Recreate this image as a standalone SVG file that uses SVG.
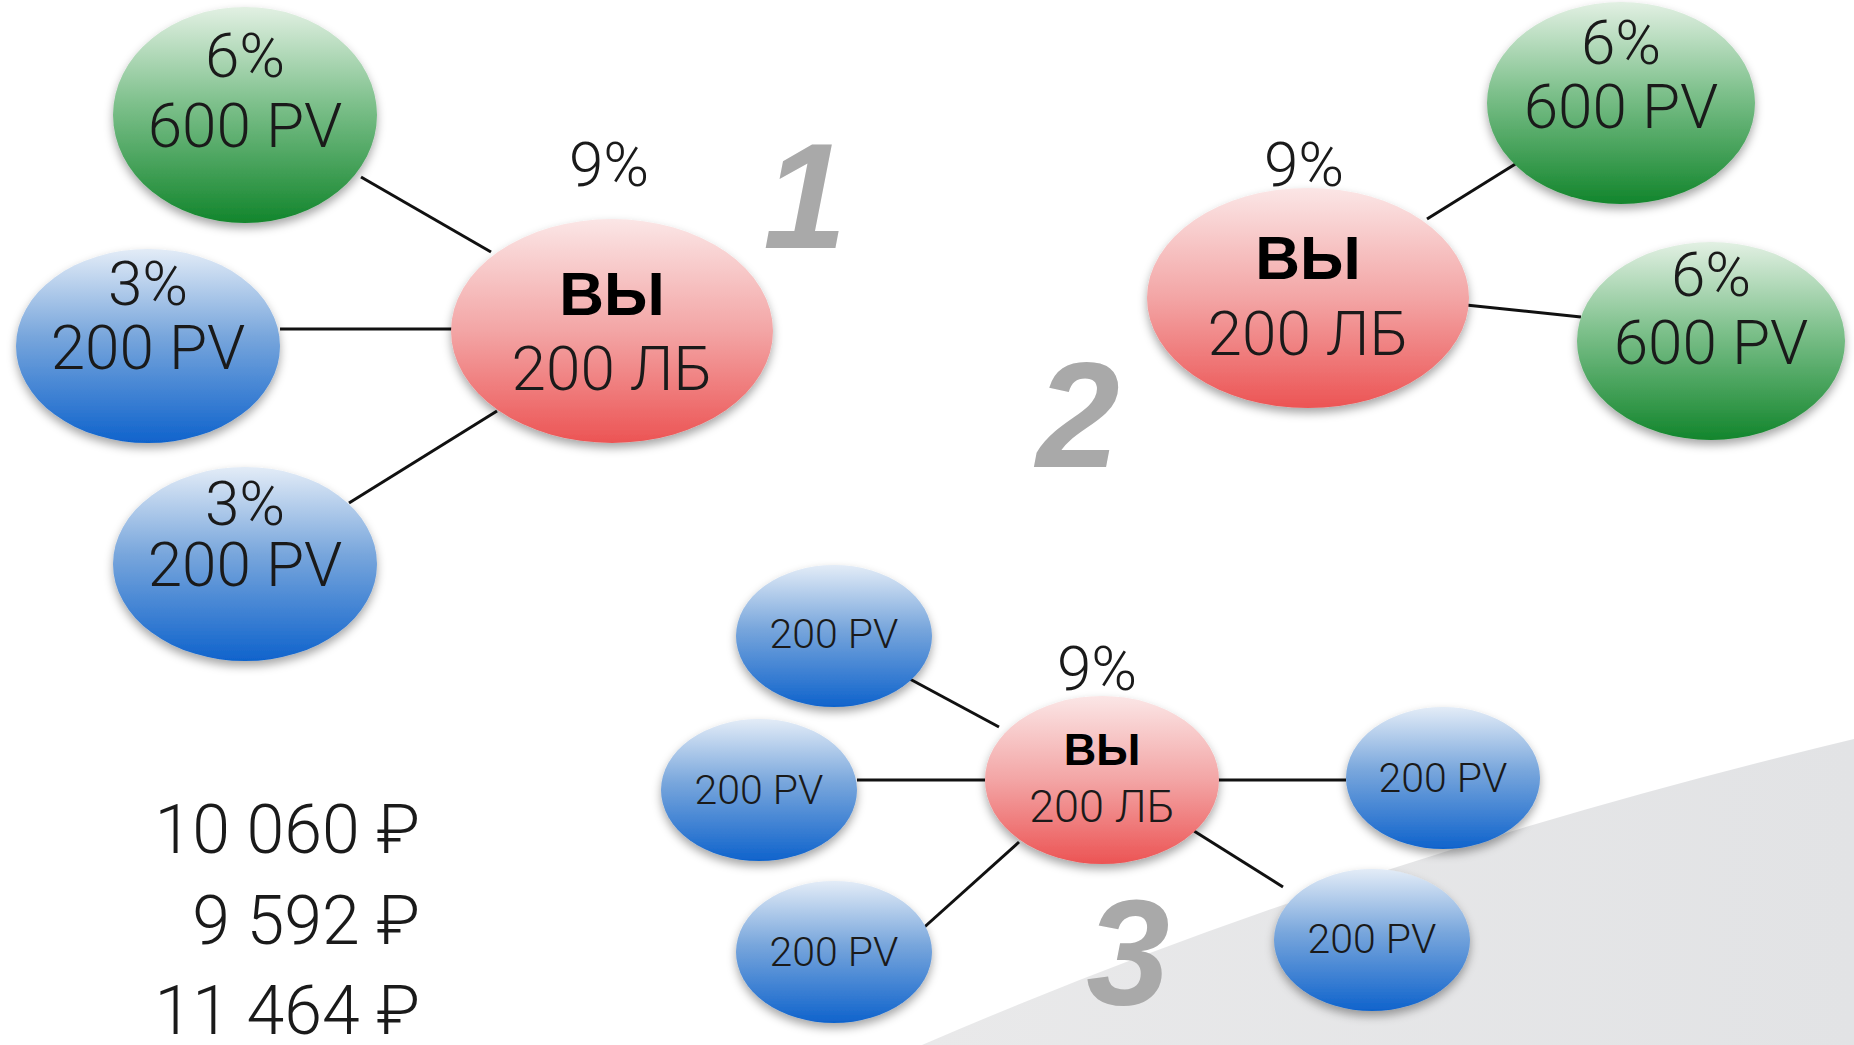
<svg xmlns="http://www.w3.org/2000/svg" width="1854" height="1045" viewBox="0 0 1854 1045">
<defs>
<linearGradient id="gGreen" x1="0" y1="0" x2="0" y2="1">
<stop offset="0" stop-color="#e2f0e3"/><stop offset="0.45" stop-color="#7dc08b"/><stop offset="1" stop-color="#12852c"/>
</linearGradient>
<linearGradient id="gBlue" x1="0" y1="0" x2="0" y2="1">
<stop offset="0" stop-color="#e3ecf7"/><stop offset="0.45" stop-color="#78a6dc"/><stop offset="1" stop-color="#0f63cc"/>
</linearGradient>
<linearGradient id="gRed" x1="0" y1="0" x2="0" y2="1">
<stop offset="0" stop-color="#fbe6e6"/><stop offset="0.5" stop-color="#f3a5a5"/><stop offset="1" stop-color="#ec5454"/>
</linearGradient>
<linearGradient id="gBg" x1="0" y1="0" x2="1" y2="0">
<stop offset="0" stop-color="#e9e9ea"/><stop offset="1" stop-color="#e2e3e5"/>
</linearGradient>
<filter id="sh" x="-20%" y="-20%" width="140%" height="150%">
<feDropShadow dx="0" dy="5" stdDeviation="5" flood-color="#000" flood-opacity="0.35"/>
</filter>
</defs>
<style>
.t{font-family:Roboto,"Liberation Sans",Arial,sans-serif;font-weight:300;fill:#1a1a1a;text-anchor:middle}
.big{font-size:62px}
.mid{font-size:45px}
.sm{font-size:41px}
.b{font-weight:bold;fill:#000;font-family:"Liberation Sans",Arial,sans-serif}
.num{font-family:"Liberation Sans",Arial,sans-serif;font-weight:bold;font-style:italic;fill:#a9a9a9;text-anchor:middle;font-size:150px}
.amt{font-family:Roboto,"Liberation Sans","DejaVu Sans",sans-serif;font-weight:300;font-size:68px;fill:#1a1a1a;text-anchor:end}
.ln{stroke:#111;stroke-width:3;fill:none}
.green{fill:url(#gGreen);filter:url(#sh)}
.blue{fill:url(#gBlue);filter:url(#sh)}
.red{fill:url(#gRed);filter:url(#sh)}
</style>
<rect width="1854" height="1045" fill="#ffffff"/>
<path d="M922 1045 Q1350 860 1854 739 L1854 1045 Z" fill="url(#gBg)"/>

<g id="labels">
<text class="num" x="805" y="248">1</text>
<text class="num" x="1078" y="467">2</text>
<text class="num" x="1128" y="1005">3</text>
<text class="amt" x="420" y="853">10 060 ₽</text>
<text class="amt" x="420" y="944">9 592 ₽</text>
<text class="amt" x="420" y="1034">11 464 ₽</text>
</g>

<g id="connectors">
<line class="ln" x1="361" y1="177" x2="491" y2="252"/>
<line class="ln" x1="280" y1="329" x2="453" y2="329"/>
<line class="ln" x1="349" y1="503" x2="497" y2="411"/>
<line class="ln" x1="1427" y1="219" x2="1517" y2="163"/>
<line class="ln" x1="1466" y1="305" x2="1581" y2="317"/>
<line class="ln" x1="908" y1="678" x2="999" y2="727"/>
<line class="ln" x1="857" y1="780" x2="985" y2="780"/>
<line class="ln" x1="910" y1="940" x2="1019" y2="842"/>
<line class="ln" x1="1218" y1="780" x2="1346" y2="780"/>
<line class="ln" x1="1194" y1="831" x2="1283" y2="887"/>
</g>

<!-- Diagram 1 -->
<g id="d1-green">
<ellipse class="green" cx="245" cy="115" rx="132" ry="108"/>
<text class="t big" x="245" y="77">6%</text>
<text class="t big" x="245" y="147">600 PV</text>
</g>
<g id="d1-blue1">
<ellipse class="blue" cx="148" cy="346" rx="132" ry="97"/>
<text class="t big" x="148" y="305">3%</text>
<text class="t big" x="148" y="369">200 PV</text>
</g>
<g id="d1-blue2">
<ellipse class="blue" cx="245" cy="564" rx="132" ry="97"/>
<text class="t big" x="245" y="525">3%</text>
<text class="t big" x="245" y="586">200 PV</text>
</g>
<g id="d1-you">
<text class="t big" x="609" y="186">9%</text>
<ellipse class="red" cx="612" cy="331" rx="161" ry="112"/>
<text class="t big b" x="612" y="315">ВЫ</text>
<text class="t big" x="612" y="390">200 ЛБ</text>
</g>

<!-- Diagram 2 -->
<g id="d2-you">
<text class="t big" x="1304" y="186">9%</text>
<ellipse class="red" cx="1308" cy="298" rx="161" ry="110"/>
<text class="t big b" x="1308" y="279">ВЫ</text>
<text class="t big" x="1308" y="355">200 ЛБ</text>
</g>
<g id="d2-green1">
<ellipse class="green" cx="1621" cy="103" rx="134" ry="101"/>
<text class="t big" x="1621" y="64">6%</text>
<text class="t big" x="1621" y="128">600 PV</text>
</g>
<g id="d2-green2">
<ellipse class="green" cx="1711" cy="341" rx="134" ry="99"/>
<text class="t big" x="1711" y="296">6%</text>
<text class="t big" x="1711" y="364">600 PV</text>
</g>

<!-- Diagram 3 -->
<g id="d3-you">
<text class="t big" x="1097" y="690">9%</text>
<ellipse class="red" cx="1102" cy="780" rx="117" ry="84"/>
<text class="t mid b" x="1102" y="765">ВЫ</text>
<text class="t mid" x="1102" y="822">200 ЛБ</text>
</g>
<g id="d3-b1">
<ellipse class="blue" cx="834" cy="636" rx="98" ry="71"/>
<text class="t sm" x="834" y="648">200 PV</text>
</g>
<g id="d3-b2">
<ellipse class="blue" cx="759" cy="790" rx="98" ry="71"/>
<text class="t sm" x="759" y="804">200 PV</text>
</g>
<g id="d3-b3">
<ellipse class="blue" cx="834" cy="952" rx="98" ry="71"/>
<text class="t sm" x="834" y="966">200 PV</text>
</g>
<g id="d3-b4">
<ellipse class="blue" cx="1443" cy="778" rx="97" ry="71"/>
<text class="t sm" x="1443" y="792">200 PV</text>
</g>
<g id="d3-b5">
<ellipse class="blue" cx="1372" cy="940" rx="98" ry="71"/>
<text class="t sm" x="1372" y="953">200 PV</text>
</g>
</svg>
